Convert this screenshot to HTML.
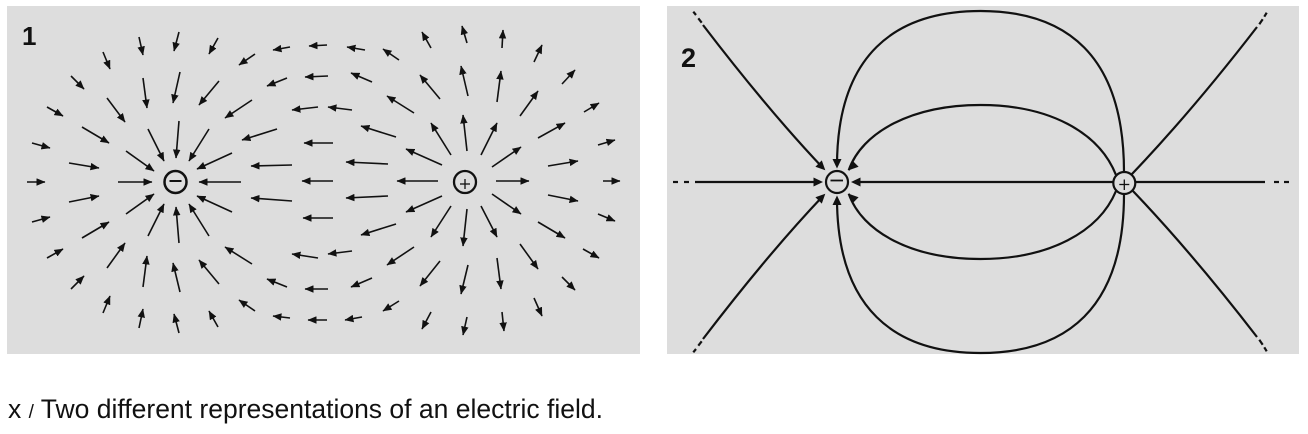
<!DOCTYPE html>
<html><head><meta charset="utf-8"><style>
html,body{margin:0;padding:0;background:#fff;}
svg{display:block;}
.a line{stroke:#111;stroke-width:1.6;marker-end:url(#h);}
.p2 path,.p2 line{fill:none;stroke:#111;stroke-width:2.2;}
</style></head><body>
<svg width="1308" height="434" viewBox="0 0 1308 434" xmlns="http://www.w3.org/2000/svg">
<defs>
<marker id="h" viewBox="0 0 9 7.5" refX="8.5" refY="3.75" markerWidth="9" markerHeight="7.5" markerUnits="userSpaceOnUse" orient="auto"><path d="M0,0 L9,3.75 L0,7.5 z" fill="#111"/></marker>
</defs>
<rect x="7" y="6" width="633" height="348" fill="#dddddd"/>
<rect x="667" y="6" width="632" height="348" fill="#dddddd"/>
<text x="22" y="45" font-family="Liberation Sans, sans-serif" font-weight="bold" font-size="26" fill="#111">1</text>
<text x="681" y="67" font-family="Liberation Sans, sans-serif" font-weight="bold" font-size="27" fill="#111">2</text>
<g class="a">
<line x1="139" y1="37" x2="143" y2="55"/>
<line x1="179" y1="32" x2="174" y2="51"/>
<line x1="218" y1="38" x2="209" y2="54"/>
<line x1="255" y1="54" x2="239" y2="65"/>
<line x1="290" y1="47" x2="273" y2="50"/>
<line x1="327" y1="45" x2="309" y2="46"/>
<line x1="103" y1="52" x2="110" y2="69"/>
<line x1="71" y1="76" x2="84" y2="89"/>
<line x1="143" y1="78" x2="147" y2="108"/>
<line x1="180" y1="72" x2="173" y2="103"/>
<line x1="219" y1="81" x2="199" y2="105"/>
<line x1="287" y1="78" x2="267" y2="86"/>
<line x1="328" y1="76" x2="305" y2="77"/>
<line x1="47" y1="107" x2="63" y2="116"/>
<line x1="107" y1="98" x2="125" y2="122"/>
<line x1="252" y1="100" x2="225" y2="118"/>
<line x1="318" y1="107" x2="292" y2="110"/>
<line x1="352" y1="110" x2="328" y2="107"/>
<line x1="82" y1="127" x2="109" y2="143"/>
<line x1="148" y1="129" x2="164" y2="161"/>
<line x1="179" y1="121" x2="176" y2="158"/>
<line x1="209" y1="129" x2="189" y2="161"/>
<line x1="277" y1="129" x2="242" y2="140"/>
<line x1="333" y1="143" x2="304" y2="143"/>
<line x1="32" y1="143" x2="50" y2="148"/>
<line x1="69" y1="163" x2="99" y2="168"/>
<line x1="126" y1="151" x2="154" y2="171"/>
<line x1="232" y1="153" x2="197" y2="169"/>
<line x1="292" y1="165" x2="251" y2="166"/>
<line x1="333" y1="181" x2="302" y2="181"/>
<line x1="27" y1="182" x2="45" y2="182"/>
<line x1="118" y1="182" x2="152" y2="182"/>
<line x1="241" y1="182" x2="199" y2="182"/>
<line x1="69" y1="202" x2="99" y2="196"/>
<line x1="126" y1="214" x2="154" y2="194"/>
<line x1="32" y1="222" x2="50" y2="217"/>
<line x1="82" y1="238" x2="109" y2="222"/>
<line x1="148" y1="236" x2="164" y2="204"/>
<line x1="179" y1="243" x2="176" y2="207"/>
<line x1="209" y1="236" x2="189" y2="204"/>
<line x1="232" y1="212" x2="197" y2="196"/>
<line x1="292" y1="201" x2="251" y2="198"/>
<line x1="333" y1="218" x2="303" y2="218"/>
<line x1="47" y1="258" x2="63" y2="249"/>
<line x1="107" y1="268" x2="125" y2="243"/>
<line x1="143" y1="287" x2="147" y2="256"/>
<line x1="180" y1="292" x2="173" y2="263"/>
<line x1="219" y1="284" x2="199" y2="260"/>
<line x1="252" y1="264" x2="225" y2="247"/>
<line x1="318" y1="258" x2="292" y2="254"/>
<line x1="352" y1="251" x2="328" y2="254"/>
<line x1="71" y1="289" x2="84" y2="276"/>
<line x1="103" y1="313" x2="110" y2="296"/>
<line x1="139" y1="328" x2="143" y2="309"/>
<line x1="179" y1="333" x2="174" y2="314"/>
<line x1="218" y1="327" x2="209" y2="311"/>
<line x1="255" y1="311" x2="239" y2="300"/>
<line x1="287" y1="287" x2="267" y2="279"/>
<line x1="328" y1="289" x2="305" y2="289"/>
<line x1="290" y1="318" x2="273" y2="316"/>
<line x1="327" y1="320" x2="308" y2="320"/>
<line x1="365" y1="50" x2="347" y2="47"/>
<line x1="399" y1="60" x2="383" y2="49"/>
<line x1="431" y1="48" x2="422" y2="32"/>
<line x1="467" y1="43" x2="462" y2="26"/>
<line x1="502" y1="48" x2="503" y2="30"/>
<line x1="534" y1="62" x2="542" y2="45"/>
<line x1="562" y1="84" x2="575" y2="70"/>
<line x1="584" y1="112" x2="599" y2="103"/>
<line x1="598" y1="145" x2="615" y2="140"/>
<line x1="603" y1="181" x2="620" y2="181"/>
<line x1="372" y1="82" x2="351" y2="73"/>
<line x1="440" y1="99" x2="420" y2="75"/>
<line x1="468" y1="96" x2="461" y2="66"/>
<line x1="497" y1="102" x2="501" y2="71"/>
<line x1="520" y1="116" x2="538" y2="91"/>
<line x1="538" y1="138" x2="565" y2="123"/>
<line x1="548" y1="166" x2="578" y2="161"/>
<line x1="496" y1="181" x2="529" y2="181"/>
<line x1="414" y1="113" x2="387" y2="96"/>
<line x1="396" y1="137" x2="361" y2="126"/>
<line x1="451" y1="155" x2="431" y2="123"/>
<line x1="467" y1="151" x2="463" y2="115"/>
<line x1="481" y1="155" x2="497" y2="123"/>
<line x1="492" y1="167" x2="521" y2="147"/>
<line x1="442" y1="165" x2="406" y2="149"/>
<line x1="388" y1="164" x2="346" y2="162"/>
<line x1="438" y1="181" x2="397" y2="181"/>
<line x1="388" y1="196" x2="346" y2="198"/>
<line x1="442" y1="196" x2="406" y2="212"/>
<line x1="451" y1="206" x2="431" y2="237"/>
<line x1="467" y1="209" x2="463" y2="246"/>
<line x1="481" y1="206" x2="497" y2="237"/>
<line x1="492" y1="194" x2="521" y2="214"/>
<line x1="548" y1="195" x2="578" y2="201"/>
<line x1="598" y1="214" x2="615" y2="221"/>
<line x1="396" y1="224" x2="361" y2="235"/>
<line x1="414" y1="247" x2="387" y2="265"/>
<line x1="440" y1="261" x2="420" y2="286"/>
<line x1="468" y1="265" x2="461" y2="294"/>
<line x1="497" y1="258" x2="501" y2="289"/>
<line x1="520" y1="244" x2="538" y2="269"/>
<line x1="538" y1="222" x2="565" y2="238"/>
<line x1="583" y1="249" x2="599" y2="258"/>
<line x1="372" y1="278" x2="351" y2="287"/>
<line x1="399" y1="301" x2="383" y2="311"/>
<line x1="431" y1="312" x2="422" y2="329"/>
<line x1="467" y1="317" x2="463" y2="335"/>
<line x1="502" y1="312" x2="504" y2="331"/>
<line x1="534" y1="298" x2="542" y2="316"/>
<line x1="562" y1="277" x2="575" y2="290"/>
<line x1="362" y1="317" x2="345" y2="320"/>
</g>
<circle cx="175.5" cy="182" r="11" fill="#dddddd" stroke="#111" stroke-width="2.5"/>
<line x1="169.5" y1="181" x2="181.5" y2="181" stroke="#111" stroke-width="2"/>
<circle cx="465" cy="182" r="11" fill="#dddddd" stroke="#111" stroke-width="2.3"/>
<line x1="460" y1="184" x2="470" y2="184" stroke="#111" stroke-width="1.3"/>
<line x1="465" y1="179" x2="465" y2="189" stroke="#111" stroke-width="1.3"/>

<g class="p2">
<line x1="673" y1="182" x2="678" y2="182"/>
<line x1="684" y1="182" x2="689" y2="182"/>
<line x1="695" y1="182" x2="820" y2="182"/>
<line x1="1113" y1="182" x2="855" y2="182"/>
<line x1="1135" y1="182" x2="1265" y2="182"/>
<line x1="1274" y1="182" x2="1279" y2="182"/>
<line x1="1284" y1="182" x2="1289" y2="182"/>
<path d="M837,166 C837,55 895,11 980.5,11 C1066,11 1124,55 1124,172"/>
<path d="M837,198 C837,309 895,353 980.5,353 C1066,353 1124,309 1124,194"/>
<path d="M848.7,170.3 C862,132 912,105 980.5,105 C1049,105 1099,132 1116,175"/>
<path d="M848.7,193.7 C862,232 912,259 980.5,259 C1049,259 1099,232 1116,191"/>
<path d="M703,25 Q768,110 823,168"/>
<path d="M703,339 Q768,254 823,196"/>
<path d="M1257,27 Q1193,110 1132,174"/>
<path d="M1257,337 Q1193,254 1132,190"/>
<line x1="693.3" y1="11.7" x2="696" y2="15"/>
<line x1="698.3" y1="18.3" x2="701.7" y2="22.7"/>
<line x1="693.3" y1="352.3" x2="696" y2="349"/>
<line x1="698.3" y1="345.7" x2="701.7" y2="341.3"/>
<line x1="1266.7" y1="12.7" x2="1264.3" y2="16.7"/>
<line x1="1262.7" y1="19.3" x2="1259.3" y2="24.3"/>
<line x1="1266.7" y1="351.3" x2="1264.3" y2="347.3"/>
<line x1="1262.7" y1="344.7" x2="1259.3" y2="339.7"/>
</g>
<g fill="#111">
<polygon points="823,182 813.5,177.5 813.5,186.5"/>
<polygon points="851,182 860.5,177.5 860.5,186.5"/>
<polygon points="837,168.5 832.5,159 841.5,159"/>
<polygon points="837,195.5 832.5,205 841.5,205"/>
<polygon points="825.3,170.3 821.8,160.4 815.4,166.8"/>
<polygon points="848.7,170.3 852.2,160.4 858.6,166.8"/>
<polygon points="825.3,193.7 815.4,197.2 821.8,203.6"/>
<polygon points="848.7,193.7 858.6,197.2 852.2,203.6"/>
</g>
<circle cx="837" cy="182" r="11" fill="#dddddd" stroke="#111" stroke-width="2.2"/>
<line x1="830.5" y1="180.5" x2="843" y2="180.5" stroke="#111" stroke-width="1.8"/>
<circle cx="1124.3" cy="183" r="11" fill="#dddddd" stroke="#111" stroke-width="2.2"/>
<line x1="1119.3" y1="184.5" x2="1129.3" y2="184.5" stroke="#111" stroke-width="1.3"/>
<line x1="1124.3" y1="179.5" x2="1124.3" y2="190" stroke="#111" stroke-width="1.3"/>

<text x="8" y="418" font-family="Liberation Sans, Arial, sans-serif" font-size="26.5" fill="#111">x <tspan font-size="19">/</tspan> Two different representations of an electric field.</text>
</svg>
</body></html>
